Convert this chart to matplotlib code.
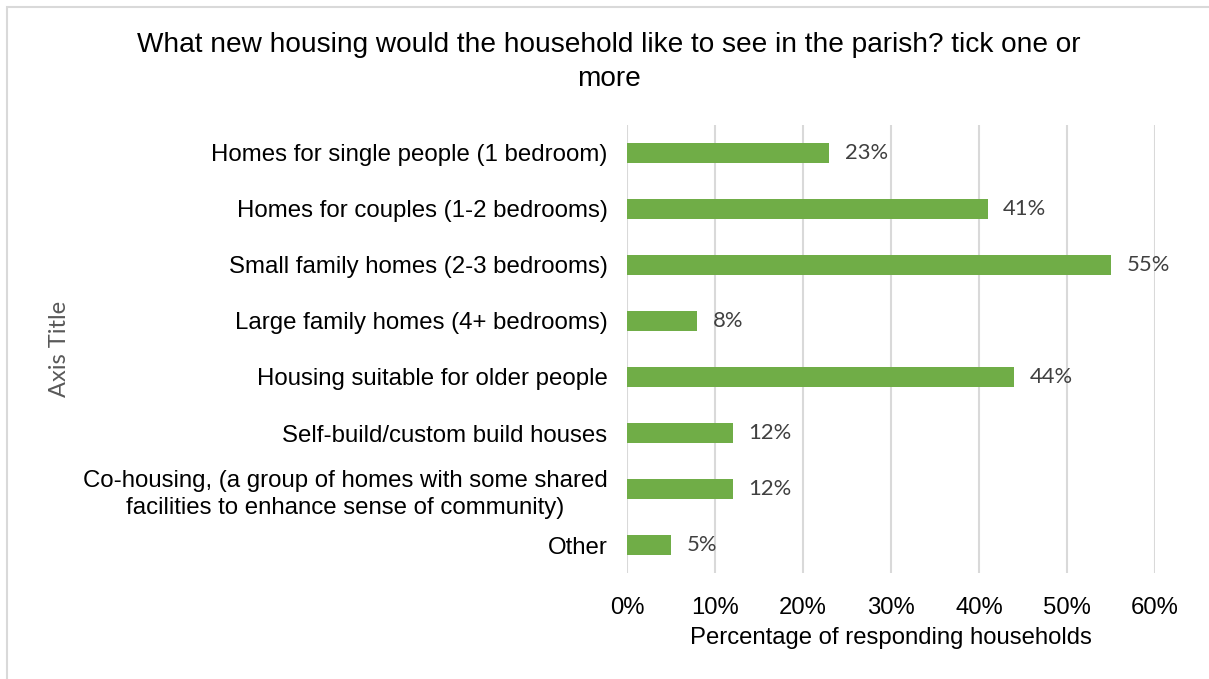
import matplotlib
matplotlib.use("Agg")
import matplotlib.pyplot as plt
from matplotlib.patches import Rectangle
from matplotlib.ticker import PercentFormatter

# chart data, top to bottom
categories = [
    "Homes for single people (1 bedroom)",
    "Homes for couples (1-2 bedrooms)",
    "Small family homes (2-3 bedrooms)",
    "Large family homes (4+ bedrooms)",
    "Housing suitable for older people",
    "Self-build/custom build houses",
    "Co-housing, (a group of homes with some shared\nfacilities to enhance sense of community)",
    "Other",
]
shares = [0.23, 0.41, 0.55, 0.08, 0.44, 0.12, 0.12, 0.05]
x_ticks = [0, 0.1, 0.2, 0.3, 0.4, 0.5, 0.6]

title = "What new housing would the household like to see in the parish? tick one or\nmore"
x_label = "Percentage of responding households"
y_label = "Axis Title"

W, H = 1209, 679
fig = plt.figure(figsize=(W / 100, H / 100), dpi=100)
ax = fig.add_axes([627 / W, (H - 573) / H, 528 / W, 448 / H])

# light grey frame around chart area
fig.patches.append(Rectangle((7 / W, -0.05), 1.2, (H - 7) / H + 0.05,
                             transform=fig.transFigure, fill=False,
                             edgecolor="#D9D9D9", lw=1.5))

pos = list(range(len(categories)))
ax.barh(pos, shares, height=0.357, color="#70AD47", zorder=3)
ax.set_ylim(len(categories) - 0.5, -0.5)
ax.set_xlim(0, 0.6)
ax.set_xticks(x_ticks)
ax.xaxis.set_major_formatter(PercentFormatter(1.0, decimals=0))
ax.grid(axis="x", color="#D9D9D9", lw=1.5, zorder=0)
for s in ax.spines.values():
    s.set_visible(False)

ax.set_yticks(pos)
ax.set_yticklabels(categories, fontsize=17.3, family="Liberation Sans",
                   multialignment="center", linespacing=1.35)
ax.tick_params(axis="y", length=0, pad=14)
ax.tick_params(axis="x", length=0, pad=17, labelsize=17.2)
for lab in ax.get_xticklabels():
    lab.set_family("Liberation Sans")

for p, v in zip(pos, shares):
    ax.annotate(f"{v:.0%}", (v, p), xytext=(11, 0), textcoords="offset points",
                va="center", ha="left", fontsize=15.8, color="#404040",
                family="Lato")

ax.set_xlabel(x_label, fontsize=17.2, family="Liberation Sans", labelpad=6)

fig.text(60 / W, 1 - 349 / H, y_label, rotation=90, ha="center", va="center",
         fontsize=17, color="#595959", family="Lato")
fig.text(609 / W, 1 - 62 / H, title, ha="center", va="center",
         fontsize=20.2, family="Liberation Sans", linespacing=1.35)

fig.savefig("out.png", dpi=100)
